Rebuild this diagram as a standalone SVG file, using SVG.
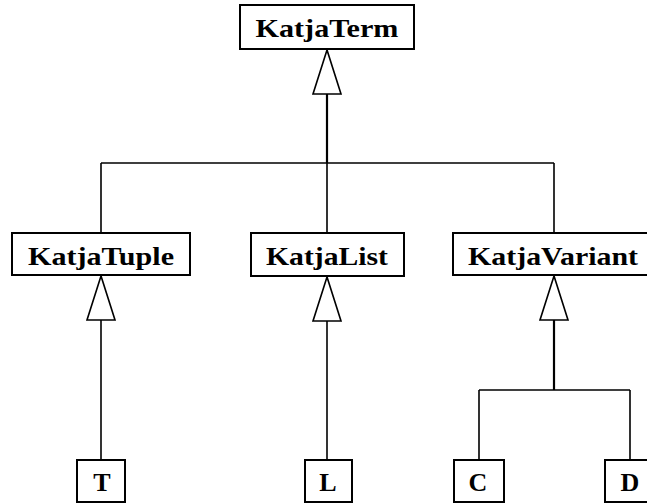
<svg xmlns="http://www.w3.org/2000/svg" width="647" height="504" viewBox="0 0 647 504">
<style>
.box{fill:#fff;stroke:#000;stroke-width:2}
.lbl{font-family:"Liberation Serif","DejaVu Serif",serif;font-weight:bold;font-size:26px;fill:#000;text-anchor:middle}
.ln{fill:none;stroke:#000;stroke-width:1.6}
.tri{fill:#fff;stroke:#000;stroke-width:1.6;stroke-linejoin:miter}
</style>
<rect width="647" height="504" fill="#fff"/>
<g id="connectors">
<path class="ln" d="M101 163H554M101 163V233M327 163V233M554 163V233"/>
<path class="ln" style="stroke-width:2.2" d="M327 94V163"/>
<polygon class="tri" points="327,50 313,94 341,94"/>
<path class="ln" d="M101 320V460"/>
<polygon class="tri" points="101,276 87,320 115,320"/>
<path class="ln" d="M327 321V460"/>
<polygon class="tri" points="327,277 313,321 341,321"/>
<path class="ln" style="stroke-width:2.2" d="M554 320V390"/>
<path class="ln" d="M479 390H630M479 390V460M630 390V460"/>
<polygon class="tri" points="554,276 540,320 568,320"/>
</g>
<g id="KatjaTerm"><rect class="box" x="240" y="5" width="174" height="44"/><text class="lbl" x="327" y="37" textLength="143" lengthAdjust="spacingAndGlyphs">KatjaTerm</text></g>
<g id="KatjaTuple"><rect class="box" x="12" y="233" width="178" height="42"/><text class="lbl" x="101" y="265" textLength="146" lengthAdjust="spacingAndGlyphs">KatjaTuple</text></g>
<g id="KatjaList"><rect class="box" x="251" y="233" width="153" height="43"/><text class="lbl" x="327" y="265" textLength="122" lengthAdjust="spacingAndGlyphs">KatjaList</text></g>
<g id="KatjaVariant"><rect class="box" x="453" y="233" width="202" height="42"/><text class="lbl" x="553" y="265" textLength="170" lengthAdjust="spacingAndGlyphs">KatjaVariant</text></g>
<g id="T"><rect class="box" x="77" y="460" width="48" height="42"/><text class="lbl" x="102" y="491">T</text></g>
<g id="L"><rect class="box" x="305" y="460" width="47" height="42"/><text class="lbl" x="328" y="491">L</text></g>
<g id="C"><rect class="box" x="454" y="460" width="50" height="42"/><text class="lbl" x="478" y="491">C</text></g>
<g id="D"><rect class="box" x="605" y="460" width="50" height="42"/><text class="lbl" x="630" y="491">D</text></g>
</svg>
